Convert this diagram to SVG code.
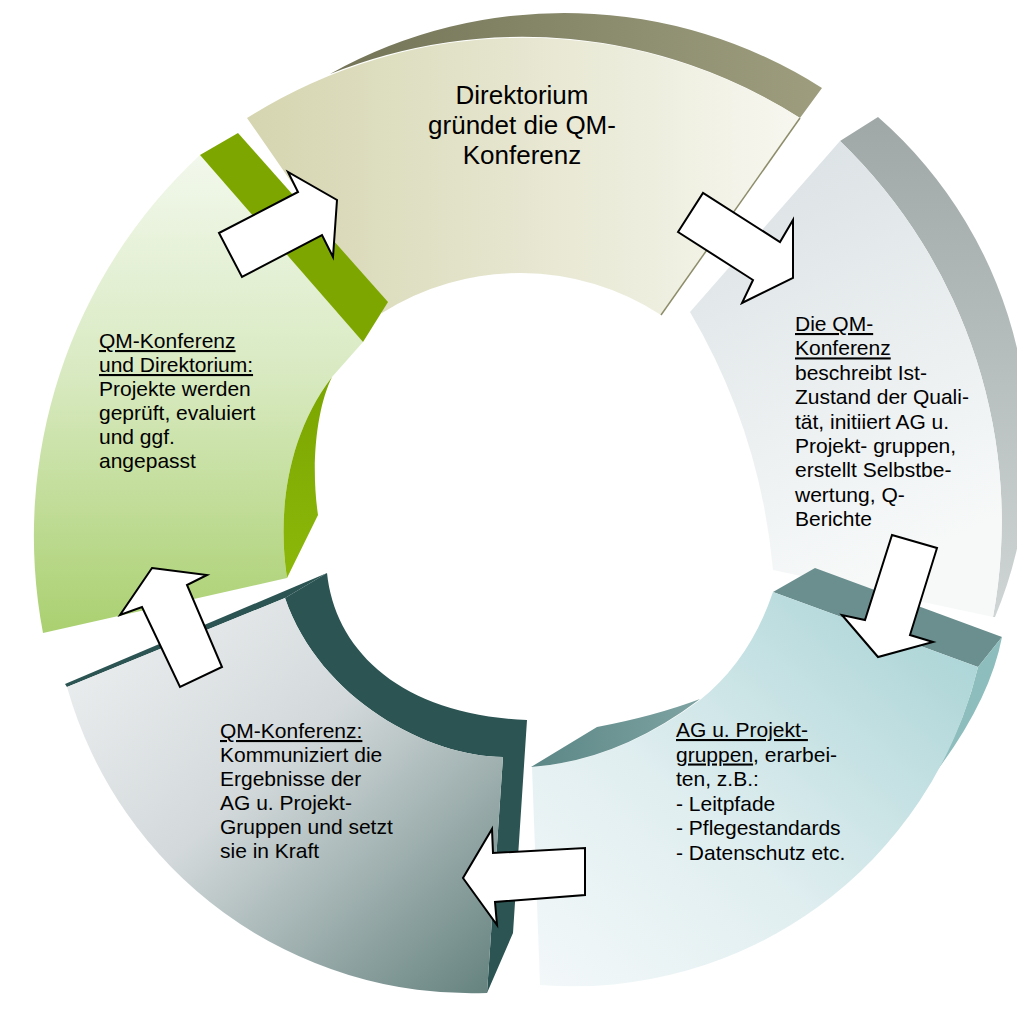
<svg xmlns="http://www.w3.org/2000/svg" width="1017" height="1012" viewBox="0 0 1017 1012">
  <defs>
    <linearGradient id="tanFace" x1="0" y1="0" x2="1" y2="0">
      <stop offset="0" stop-color="#d5d5b0"/>
      <stop offset="1" stop-color="#f7f7f0"/>
    </linearGradient>
    <linearGradient id="tanBand" x1="0" y1="0" x2="1" y2="0">
      <stop offset="0" stop-color="#737357"/>
      <stop offset="1" stop-color="#9e9e7f"/>
    </linearGradient>
    <linearGradient id="greenFace" x1="0" y1="0" x2="0" y2="1">
      <stop offset="0" stop-color="#f2f8ec"/>
      <stop offset="0.45" stop-color="#d9eac2"/>
      <stop offset="1" stop-color="#aad070"/>
    </linearGradient>
    <linearGradient id="greenWedge" x1="0" y1="0" x2="0" y2="1">
      <stop offset="0" stop-color="#7ba500"/>
      <stop offset="1" stop-color="#8cb80a"/>
    </linearGradient>
    <linearGradient id="blueFace" x1="0" y1="0" x2="0.3" y2="1">
      <stop offset="0" stop-color="#d9e0e3"/>
      <stop offset="1" stop-color="#f7f9f9"/>
    </linearGradient>
    <linearGradient id="grayBand" x1="0" y1="0" x2="0" y2="1">
      <stop offset="0" stop-color="#9fa7a7"/>
      <stop offset="1" stop-color="#cfd5d5"/>
    </linearGradient>
    <linearGradient id="tealFace" x1="0" y1="1" x2="1" y2="0">
      <stop offset="0" stop-color="#f3f8f9"/>
      <stop offset="0.4" stop-color="#e0eef0"/>
      <stop offset="1" stop-color="#a4d1d3"/>
    </linearGradient>
    <linearGradient id="tealWedge" x1="0" y1="0" x2="1" y2="0">
      <stop offset="0" stop-color="#5b8786"/>
      <stop offset="1" stop-color="#7ea3a2"/>
    </linearGradient>
    <linearGradient id="slateFace" x1="0" y1="0" x2="1" y2="1">
      <stop offset="0" stop-color="#f0f2f3"/>
      <stop offset="0.45" stop-color="#d3d9db"/>
      <stop offset="1" stop-color="#62807c"/>
    </linearGradient>
    <style>
      .lbl { font-family: "Liberation Sans", Arial, sans-serif; font-size: 21px; fill: #000; }
      .ttl { font-family: "Liberation Sans", Arial, sans-serif; font-size: 26px; fill: #000; text-anchor: middle; }
      .ul { text-decoration: underline; }
      .arrow { fill: #fff; stroke: #000; stroke-width: 2; stroke-linejoin: miter; }
    </style>
  </defs>

  <!-- top segment: Direktorium -->
  <g id="seg-direktorium">
    <path d="M330,74 A480 480 0 0 1 822,88 L800,118 A516 516 0 0 0 330,74 Z" fill="url(#tanBand)"/>
    <path d="M247,118 A516 516 0 0 1 800,118 L661,315 A258 258 0 0 0 382,313 Z" fill="url(#tanFace)"/>
    <line x1="800" y1="118" x2="661" y2="315" stroke="#8d8d6b" stroke-width="1.5"/>
    <text class="ttl" x="522" y="104">Direktorium</text>
    <text class="ttl" x="522" y="134">gründet die QM-</text>
    <text class="ttl" x="522" y="164">Konferenz</text>
  </g>

  <!-- right segment: QM-Konferenz beschreibt -->
  <g id="seg-qm-konferenz">
    <path d="M840,141 L878,117 A440 440 0 0 1 995,617 L993,617 A528 528 0 0 0 840,141 Z" fill="url(#grayBand)"/>
    <path d="M840,141 A528 528 0 0 1 993,617 L773,570 A619 619 0 0 0 690,312 Z" fill="url(#blueFace)"/>
    <text class="lbl" x="795" y="331"><tspan class="ul">Die QM-</tspan></text>
    <text class="lbl" x="795" y="355.4"><tspan class="ul">Konferenz</tspan></text>
    <text class="lbl" x="795" y="379.8">beschreibt Ist-</text>
    <text class="lbl" x="795" y="404.2">Zustand der Quali-</text>
    <text class="lbl" x="795" y="428.6">tät, initiiert AG u.</text>
    <text class="lbl" x="795" y="453">Projekt- gruppen,</text>
    <text class="lbl" x="795" y="477.4">erstellt Selbstbe-</text>
    <text class="lbl" x="795" y="501.8">wertung, Q-</text>
    <text class="lbl" x="795" y="526.2">Berichte</text>
  </g>

  <!-- bottom-right segment: AG u. Projektgruppen -->
  <g id="seg-ag-projektgruppen">
    <path d="M773,592 L815,568 L1002,637 L978,667 Z" fill="#6a8f8e"/>
    <path d="M978,667 L1002,637 Q990,700 936,772 Q965,722 978,667 Z" fill="#8ebdbd"/>
    <path d="M532,767 Q618,761 700,700 Q750,660 773,592 L978,667 A416 416 0 0 1 540,985 Z" fill="url(#tealFace)"/>
    <path d="M531,767 L597,727 Q655,716 700,699 Q618,761 531,767 Z" fill="url(#tealWedge)"/>
    <text class="lbl" x="676" y="737"><tspan class="ul">AG u. Projekt-</tspan></text>
    <text class="lbl" x="676" y="761.5"><tspan class="ul">gruppen</tspan>, erarbei-</text>
    <text class="lbl" x="676" y="786">ten, z.B.:</text>
    <text class="lbl" x="676" y="810.5">- Leitpfade</text>
    <text class="lbl" x="676" y="835">- Pflegestandards</text>
    <text class="lbl" x="676" y="859.5">- Datenschutz etc.</text>
  </g>

  <!-- bottom-left segment: QM-Konferenz kommuniziert -->
  <g id="seg-kommunikation">
    <path d="M65,684 L327,573 L285,598 L67,687 Z" fill="#2b5453"/>
    <path d="M285,598 L327,573 C335,650 400,715 527,720 L513,933 L487,993 L503,757 C430,757 320,700 285,598 Z" fill="#2b5453"/>
    <path d="M67,687 L285,598 C320,700 430,757 503,757 L487,993 A420 420 0 0 1 67,687 Z" fill="url(#slateFace)"/>
    <text class="lbl" x="220" y="738"><tspan class="ul">QM-Konferenz:</tspan></text>
    <text class="lbl" x="220" y="762">Kommuniziert die</text>
    <text class="lbl" x="220" y="786">Ergebnisse der</text>
    <text class="lbl" x="220" y="810">AG u. Projekt-</text>
    <text class="lbl" x="220" y="834">Gruppen und setzt</text>
    <text class="lbl" x="220" y="858">sie in Kraft</text>
  </g>

  <!-- left segment: Evaluation -->
  <g id="seg-evaluation">
    <path d="M200,155 A520 520 0 0 0 43,633 L287,578 C278,520 284,440 332,377 L363,342 Z" fill="url(#greenFace)"/>
    <path d="M332,377 C318,405 310,460 318,515 L287,578 C278,520 284,440 332,377 Z" fill="url(#greenWedge)"/>
    <path d="M200,155 L238,133 L388,302 L363,342 Z" fill="#7da600"/>
    <text class="lbl" x="99" y="348"><tspan class="ul">QM-Konferenz</tspan></text>
    <text class="lbl" x="99" y="372"><tspan class="ul">und Direktorium:</tspan></text>
    <text class="lbl" x="99" y="396">Projekte werden</text>
    <text class="lbl" x="99" y="420">geprüft, evaluiert</text>
    <text class="lbl" x="99" y="444">und ggf.</text>
    <text class="lbl" x="99" y="468">angepasst</text>
  </g>

  <!-- cycle arrows -->
  <g id="connectors">
    <polygon class="arrow" points="219,233 298,192 288,172 337,200 333,257 322,235 242,277"/>
    <polygon class="arrow" points="678,232 703,193 780,242 793,220 793,278 742,303 753,280"/>
    <polygon class="arrow" points="892,535 937,548 910,635 933,642 878,657 842,615 865,620"/>
    <polygon class="arrow" points="585,848 585,895 495,902 497,925 463,878 492,829 493,853"/>
    <polygon class="arrow" points="152,568 207,575 187,585 222,667 180,687 142,607 120,615"/>
  </g>
</svg>
